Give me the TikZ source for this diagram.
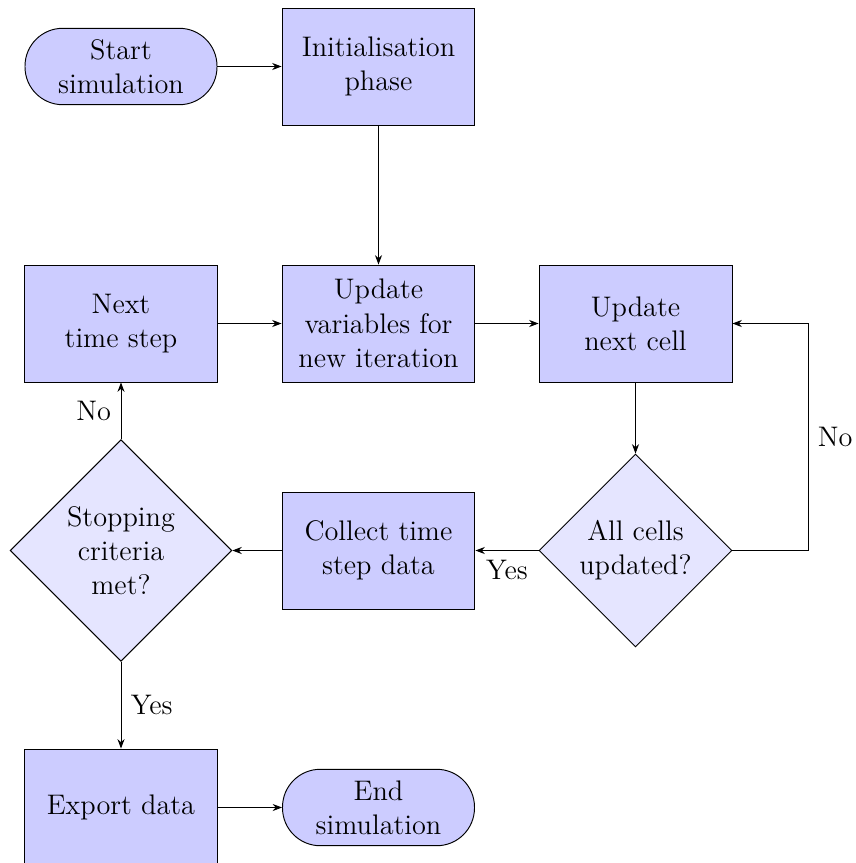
\documentclass[tikz,border=0pt]{standalone}
\usetikzlibrary{shapes.geometric,arrows.meta}
\begin{document}
\begin{tikzpicture}[x=0.424pt,y=-0.424pt,
  font=\fontsize{12}{14.5}\selectfont,
  procbox/.style={rectangle,draw=black,fill=blue!20,minimum width=81.8pt,minimum height=49.6pt,inner sep=0pt,align=center},
  termbox/.style={rectangle,rounded corners=16pt,draw=black,fill=blue!20,minimum width=81.4pt,minimum height=32.4pt,inner sep=0pt,align=center},
  decbox/.style={diamond,draw=black,fill=blue!10,inner sep=0pt,align=center},
  conn/.style={draw=black,line width=0.4pt,-{Stealth[length=4pt,width=3pt]}},
  lbl/.style={inner sep=4pt}]
\useasboundingbox (0,0) rectangle (856,863);
\node[termbox] (start) at (121,66.5) {Start\\simulation};
\node[procbox] (init) at (378.5,66.5) {Initialisation\\phase};
\node[procbox] (next) at (121,323.5) {Next\\time step};
\node[procbox] (vars) at (378.5,323.5) {Update\\variables for\\new iteration};
\node[procbox] (cell) at (635.5,323.5) {Update\\next cell};
\node[decbox,minimum width=94pt,minimum height=94pt] (stop) at (121,550.5) {Stopping\\criteria\\met?};
\node[procbox] (collect) at (378.5,550.5) {Collect time\\step data};
\node[decbox,minimum width=81.8pt,minimum height=81.8pt] (all) at (635.5,550.5) {All cells\\updated?};
\node[procbox] (export) at (121,807.5) {Export data};
\node[termbox] (end) at (378.5,807.5) {End\\simulation};
\coordinate (loop) at (808,550.5);
\draw[conn] (start) -- (init);
\draw[conn] (init) -- (vars);
\draw[conn] (next) -- (vars);
\draw[conn] (vars) -- (cell);
\draw[conn] (cell) -- (all);
\draw[conn] (all.east) -- (loop) -- node[lbl,right,midway] {No} (loop |- cell.east) -- (cell.east);
\draw[conn] (all.west) -- node[lbl,below,midway] {Yes} (collect.east);
\draw[conn] (collect.west) -- (stop.east);
\draw[conn] (stop.north) -- node[lbl,left,midway] {No} (next.south);
\draw[conn] (stop.south) -- node[lbl,right,midway] {Yes} (export.north);
\draw[conn] (export) -- (end);
\end{tikzpicture}
\end{document}
